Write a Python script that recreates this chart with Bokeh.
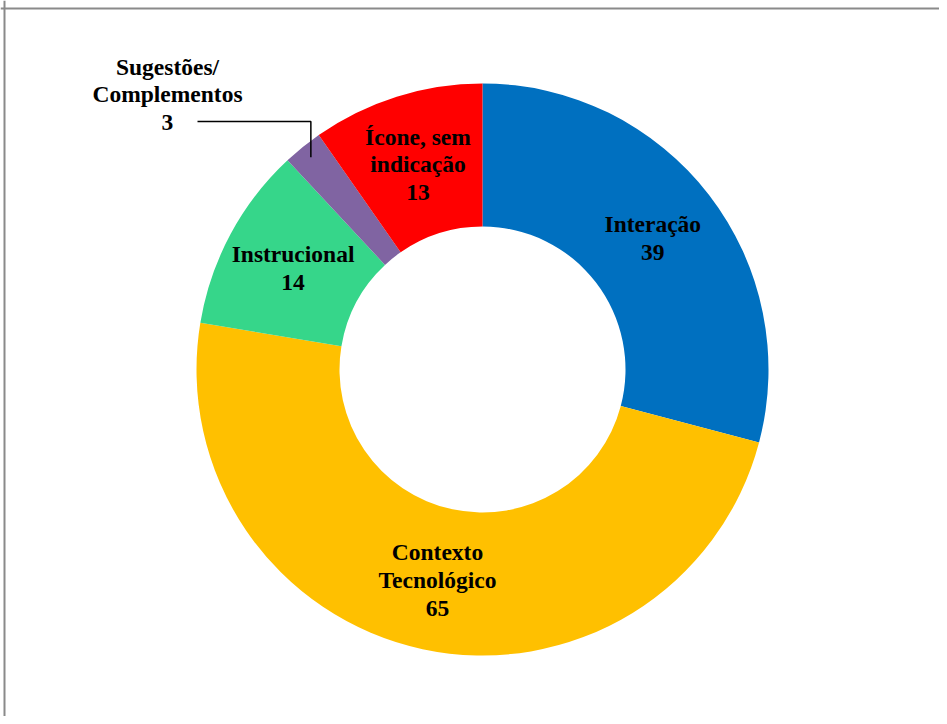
import math
from bokeh.plotting import figure
from bokeh.models import Range1d, ColumnDataSource, Span
from bokeh.core.properties import value
from bokeh.embed import file_html
from bokeh.resources import INLINE

# ---- data ----
categories = ["Interação", "Contexto\nTecnológico", "Instrucional", "Sugestões/\nComplementos", "Ícone, sem\nindicação"]
values = [39, 65, 14, 3, 13]
colors = ["#0070C0", "#FFC000", "#36D68A", "#8064A2", "#FF0000"]

# ---- layout constants (pixels, figure is 1:1) ----
W, H = 939, 716
CX, CY = 482, H - 369
R_OUT, R_IN = 286, 143
R_LABEL = 215
FONT = value("Liberation Serif")
FS = "23.5px"
LH = 1.07

p = figure(width=W, height=H, output_backend="svg", toolbar_location=None,
           x_range=Range1d(0, W), y_range=Range1d(0, H), min_border=0)
p.axis.visible = False
p.grid.visible = False
p.outline_line_color = None
p.background_fill_color = "white"
p.add_layout(Span(location=4, dimension="height", line_color="#8a8a8a", line_width=2))
p.add_layout(Span(location=H - 8, dimension="width", line_color="#8a8a8a", line_width=2))

total = sum(values)
starts, ends, lx, ly, texts = [], [], [], [], []
cum = 0.0
for c, v in zip(categories, values):
    t0 = cum / total * 2 * math.pi
    cum += v
    t1 = cum / total * 2 * math.pi
    starts.append(math.pi / 2 - t0)
    ends.append(math.pi / 2 - t1)
    mid = (t0 + t1) / 2
    lx.append(CX + R_LABEL * math.sin(mid))
    ly.append(CY + R_LABEL * math.cos(mid))
    texts.append(f"{c}\n{v}")

src = ColumnDataSource(dict(start=starts, end=ends, color=colors))
p.annular_wedge(x=CX, y=CY, inner_radius=R_IN, outer_radius=R_OUT,
                start_angle="start", end_angle="end", direction="clock",
                fill_color="color", line_color=None, source=src)

# inside labels (all except the small slice)
small = 3
in_idx = [i for i in range(len(values)) if i != small]
p.text(x=[lx[i] for i in in_idx], y=[ly[i] for i in in_idx], text=[texts[i] for i in in_idx],
       text_font=FONT, text_font_style="bold", text_font_size=FS,
       text_align="center", text_baseline="middle", text_line_height=LH, text_color="black")

# outside label with leader line for the small slice
t0 = sum(values[:small]) / total * 2 * math.pi
t1 = sum(values[:small + 1]) / total * 2 * math.pi
mid = (t0 + t1) / 2
ex = CX + 273 * math.sin(mid)
ey = CY + 273 * math.cos(mid)
elbow_y = H - 121
p.line(x=[197, ex, ex], y=[elbow_y, elbow_y, ey], line_color="black", line_width=1.5)
p.text(x=[167], y=[H - 94], text=[texts[small]],
       text_font=FONT, text_font_style="bold", text_font_size=FS,
       text_align="center", text_baseline="middle", text_line_height=LH, text_color="black")

open("out.html", "w").write(file_html(p, INLINE))
